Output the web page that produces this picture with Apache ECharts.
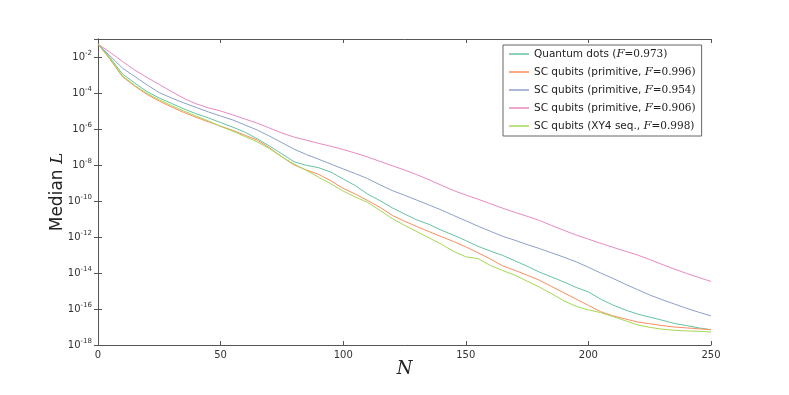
<!DOCTYPE html>
<html>
<head>
<meta charset="utf-8">
<script src="https://cdn.jsdelivr.net/npm/echarts@6/dist/echarts.min.js"></script>
<style>html,body{margin:0;padding:0;background:#fff}#c{width:789px;height:395px}</style>
</head>
<body>
<div id="c"></div>
<script>
// N values (x axis)
const nValues = [0,5,10,15,20,25,30,35,40,45,50,55,60,65,70,75,80,85,90,95,100,105,110,115,120,125,130,135,140,145,150,155,160,165,170,175,180,185,190,195,200,205,210,215,220,225,230,235,240,245,250];

// log10 of Median L
const quantumDotsLog = [-1.28,-2.05,-2.95,-3.45,-3.92,-4.28,-4.58,-4.88,-5.15,-5.38,-5.64,-5.90,-6.18,-6.55,-6.95,-7.38,-7.82,-8.02,-8.15,-8.40,-8.78,-9.15,-9.62,-9.98,-10.38,-10.72,-11.05,-11.30,-11.62,-11.90,-12.20,-12.52,-12.78,-13.02,-13.32,-13.62,-13.95,-14.22,-14.50,-14.80,-15.05,-15.45,-15.78,-16.05,-16.28,-16.45,-16.62,-16.80,-16.92,-17.05,-17.15];
const scPrim996Log = [-1.28,-2.15,-3.10,-3.62,-4.08,-4.45,-4.78,-5.08,-5.35,-5.60,-5.84,-6.08,-6.35,-6.62,-7.05,-7.55,-8.00,-8.28,-8.52,-8.88,-9.30,-9.62,-9.98,-10.35,-10.80,-11.12,-11.42,-11.70,-11.98,-12.25,-12.55,-12.88,-13.22,-13.60,-13.85,-14.12,-14.40,-14.75,-15.10,-15.45,-15.80,-16.15,-16.38,-16.55,-16.72,-16.82,-16.92,-17.00,-17.05,-17.10,-17.15];
const scPrim954Log = [-1.28,-1.95,-2.62,-3.08,-3.55,-3.98,-4.28,-4.55,-4.80,-5.05,-5.28,-5.50,-5.78,-6.06,-6.40,-6.76,-7.12,-7.42,-7.68,-7.95,-8.22,-8.48,-8.76,-9.10,-9.42,-9.68,-9.95,-10.22,-10.50,-10.80,-11.10,-11.40,-11.68,-11.96,-12.18,-12.42,-12.64,-12.88,-13.12,-13.38,-13.68,-14.00,-14.30,-14.62,-14.92,-15.22,-15.48,-15.72,-15.96,-16.18,-16.38];
const scPrim906Log = [-1.28,-1.75,-2.25,-2.73,-3.14,-3.53,-3.92,-4.30,-4.60,-4.82,-5.00,-5.22,-5.45,-5.68,-5.95,-6.22,-6.45,-6.62,-6.80,-6.96,-7.14,-7.34,-7.56,-7.80,-8.04,-8.28,-8.54,-8.82,-9.12,-9.42,-9.67,-9.90,-10.15,-10.40,-10.63,-10.85,-11.08,-11.36,-11.63,-11.89,-12.12,-12.35,-12.57,-12.79,-13.00,-13.25,-13.52,-13.78,-14.02,-14.25,-14.47];
const scXY4Log = [-1.28,-2.10,-3.05,-3.58,-4.02,-4.38,-4.70,-5.00,-5.28,-5.55,-5.86,-6.12,-6.42,-6.72,-7.10,-7.55,-7.95,-8.30,-8.68,-9.05,-9.45,-9.78,-10.08,-10.52,-10.98,-11.35,-11.70,-12.05,-12.40,-12.80,-13.10,-13.20,-13.58,-13.86,-14.12,-14.45,-14.78,-15.15,-15.55,-15.85,-16.05,-16.20,-16.42,-16.65,-16.88,-17.02,-17.12,-17.18,-17.22,-17.24,-17.28];

const seriesNames = ['Quantum dots (', 'SC qubits (primitive, ', 'SC qubits (primitive, ', 'SC qubits (primitive, ', 'SC qubits (XY4 seq., '];
const fidelities = ['0.973', '0.996', '0.954', '0.906', '0.998'];
const colors = ['#66c2a5', '#fc8d62', '#8da0cb', '#e78ac3', '#a6d854'];
const xTicks = {min: 0, max: 250, interval: 50};
const yTicks = {min: 1e-18, max: 1e-1, interval: 2};

const allLog = [quantumDotsLog, scPrim996Log, scPrim954Log, scPrim906Log, scXY4Log];
const ids = ['s0', 's1', 's2', 's3', 's4'];
const labelText = {};
ids.forEach((id, i) => {
  labelText[id] = seriesNames[i] + '{i|F}{m|=' + fidelities[i] + ')}';
});

const chart = echarts.init(document.getElementById('c'), null, {renderer: 'canvas'});
const font = 'DejaVu Sans';
const axisColor = '#555';

function yLabel(v) {
  const e = Math.round(Math.log10(v));
  if (e % 2 !== 0) return '';
  return '{b|10}{s|' + e + '}';
}

const option = {
  animation: false,
  backgroundColor: '#fff',
  color: colors,
  grid: {left: 98, top: 39, right: 78, bottom: 50},
  legend: {
    orient: 'vertical',
    left: 503, top: 45,
    data: ids,
    formatter: (name) => labelText[name],
    icon: 'rect',
    itemWidth: 20, itemHeight: 1.5,
    itemGap: 4,
    padding: [2, 6, 3, 6],
    backgroundColor: '#fff',
    borderColor: '#666', borderWidth: 1, borderRadius: 0,
    textStyle: {
      fontFamily: font, fontSize: 10.5, color: '#222', lineHeight: 14,
      rich: {
        i: {fontFamily: 'DejaVu Serif', fontStyle: 'italic', fontSize: 11.5, color: '#222'},
        m: {fontFamily: 'DejaVu Serif', fontSize: 10.5, color: '#222'}
      }
    }
  },
  xAxis: [{
    type: 'value', min: xTicks.min, max: xTicks.max, interval: xTicks.interval,
    name: 'N', nameLocation: 'middle', nameGap: 15, nameMoveOverlap: false,
    nameTextStyle: {fontFamily: 'DejaVu Serif', fontStyle: 'italic', fontSize: 18, color: '#222'},
    axisLine: {lineStyle: {color: axisColor, width: 1}},
    axisTick: {inside: true, length: 4, lineStyle: {color: axisColor}},
    axisLabel: {fontFamily: font, fontSize: 10, color: '#333', margin: 5},
    splitLine: {show: false}
  }, {
    type: 'value', position: 'top', min: xTicks.min, max: xTicks.max, interval: xTicks.interval,
    axisLine: {show: true, lineStyle: {color: axisColor, width: 1}},
    axisTick: {inside: true, length: 4, lineStyle: {color: axisColor}},
    axisLabel: {show: false}, splitLine: {show: false}
  }],
  yAxis: [{
    type: 'log', logBase: 10, min: yTicks.min, max: yTicks.max, interval: yTicks.interval,
    name: '{a|Median }{l|L}', nameLocation: 'middle', nameGap: 32, nameRotate: 90, nameMoveOverlap: false,
    nameTextStyle: {
      rich: {
        a: {fontFamily: font, fontSize: 17, color: '#222'},
        l: {fontFamily: 'DejaVu Serif', fontStyle: 'italic', fontSize: 17, color: '#222'}
      }
    },
    axisLine: {show: true, lineStyle: {color: axisColor, width: 1}},
    axisTick: {inside: true, length: 4, lineStyle: {color: axisColor}},
    axisLabel: {
      formatter: yLabel, margin: 6,
      rich: {
        b: {fontFamily: font, fontSize: 10, color: '#333'},
        s: {fontFamily: font, fontSize: 7, color: '#333', padding: [0, 0, 7, 0]}
      }
    },
    splitLine: {show: false}
  }, {
    type: 'log', logBase: 10, position: 'right', min: yTicks.min, max: yTicks.max, interval: yTicks.interval,
    axisLine: {show: true, lineStyle: {color: axisColor, width: 1}},
    axisTick: {inside: true, length: 4, lineStyle: {color: axisColor}},
    axisLabel: {show: false}, splitLine: {show: false}
  }],
  series: allLog.map((arr, i) => ({
    id: ids[i], name: ids[i], type: 'line', xAxisIndex: 0, yAxisIndex: 0,
    symbol: 'none', smooth: false,
    lineStyle: {width: 1, color: colors[i]},
    itemStyle: {color: colors[i]},
    data: arr.map((e, k) => [nValues[k], Math.pow(10, e)])
  }))
};
chart.setOption(option);
</script>
</body>
</html>
